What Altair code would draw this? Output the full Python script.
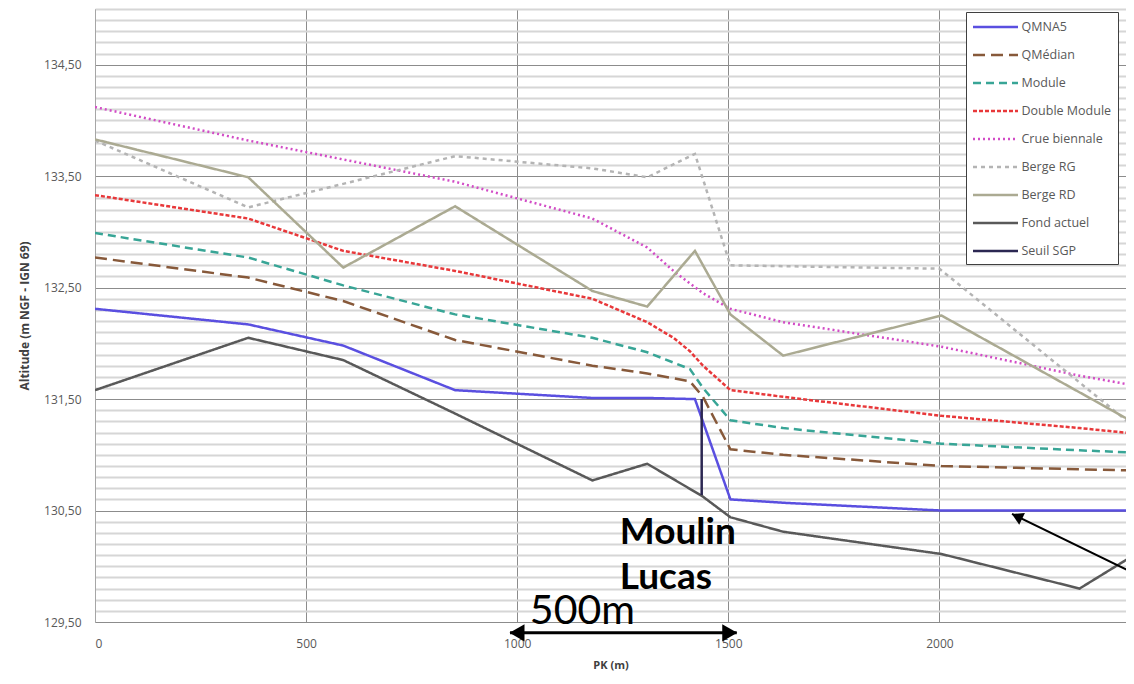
import altair as alt
import pandas as pd

# ---------------- data ----------------
series = ["QMNA5", "QMédian", "Module", "Double Module", "Crue biennale",
          "Berge RG", "Berge RD", "Fond actuel", "Seuil SGP"]

pk_qmna5 = [0, 363, 588, 853, 1178, 1308, 1421, 1505, 1630, 2005, 2332, 2465]
z_qmna5 = [132.31, 132.17, 131.98, 131.58, 131.51, 131.51, 131.50, 130.60, 130.57, 130.50, 130.50, 130.50]

pk_qmedian = [0, 363, 588, 853, 1178, 1308, 1409, 1440, 1505, 1630, 2005, 2332, 2465]
z_qmedian = [132.77, 132.59, 132.38, 132.03, 131.80, 131.73, 131.66, 131.52, 131.05, 131.00, 130.90, 130.87, 130.86]

pk_module = [0, 363, 588, 853, 1178, 1308, 1409, 1440, 1505, 1630, 2005, 2332, 2465]
z_module = [132.99, 132.77, 132.52, 132.26, 132.05, 131.92, 131.77, 131.60, 131.31, 131.24, 131.10, 131.04, 131.02]

pk_double = [0, 363, 588, 853, 1178, 1308, 1370, 1409, 1440, 1505, 1630, 2005, 2332, 2465]
z_double = [133.33, 133.12, 132.83, 132.65, 132.40, 132.19, 132.05, 131.93, 131.80, 131.58, 131.52, 131.35, 131.24, 131.19]

pk_crue = [0, 363, 588, 853, 1178, 1308, 1370, 1440, 1505, 1630, 2005, 2332, 2465]
z_crue = [134.12, 133.82, 133.65, 133.45, 133.12, 132.86, 132.65, 132.45, 132.31, 132.19, 131.97, 131.71, 131.62]

pk_rg = [0, 363, 853, 1178, 1308, 1421, 1505, 2000, 2465]
z_rg = [133.82, 133.22, 133.68, 133.57, 133.49, 133.70, 132.70, 132.67, 131.24]

pk_rd = [0, 363, 588, 853, 1178, 1308, 1421, 1505, 1630, 2005, 2465]
z_rd = [133.83, 133.49, 132.68, 133.23, 132.47, 132.33, 132.83, 132.26, 131.89, 132.25, 131.28]

pk_fond = [0, 363, 588, 853, 1178, 1308, 1438, 1505, 1630, 2005, 2332, 2465]
z_fond = [131.58, 132.05, 131.85, 131.37, 130.77, 130.92, 130.63, 130.44, 130.31, 130.11, 129.80, 130.11]

pk_seuil = [1437, 1437]
z_seuil = [130.64, 131.50]

# annotations
moulin_text = ["Moulin", "Lucas"]
moulin_pk = [1243, 1243]
moulin_z = [130.20, 129.80]

scale_text = ["500m"]
scale_text_pk = [1030]
scale_text_z = [129.478]

scale_arrow_pk = [983, 1520]
scale_arrow_z = [129.403, 129.403]

pointer_pk = [2172, 2470]
pointer_z = [130.47, 129.92]

x_ticks = [0, 500, 1000, 1500, 2000]
y_ticks = [round(129.5 + 0.1 * i, 1) for i in range(56)]

# ---------------- styles ----------------
colors = ["#5a4fe0", "#87593a", "#38a596", "#e8383a", "#d24cc6",
          "#b4b4b4", "#abaa92", "#595959", "#2b2752"]
dashes = [[1, 0], [12, 6], [8, 5], [4, 2], [2, 3], [4, 4], [1, 0], [1, 0], [1, 0]]
widths = [2.5, 2.5, 2.5, 2.5, 2.5, 1.5, 2, 2, 3]

pk_lists = [pk_qmna5, pk_qmedian, pk_module, pk_double, pk_crue, pk_rg, pk_rd, pk_fond, pk_seuil]
z_lists = [z_qmna5, z_qmedian, z_module, z_double, z_crue, z_rg, z_rd, z_fond, z_seuil]

rows = []
for name, xs, zs in zip(series, pk_lists, z_lists):
    for i, (x, z) in enumerate(zip(xs, zs)):
        rows.append({"serie": name, "pk": x, "z": z, "idx": i})
df = pd.DataFrame(rows)

X_DOMAIN = [0, 2442]
Y_DOMAIN = [129.5, 135.0]
xscale = alt.Scale(domain=X_DOMAIN, nice=False, zero=False)
yscale = alt.Scale(domain=Y_DOMAIN, nice=False, zero=False)

is_major = "(abs((datum.value - 129.5) % 1) < 0.001 || abs((datum.value - 129.5) % 1 - 1) < 0.001)"

xaxis = alt.Axis(values=x_ticks, format="d", grid=True, gridColor="#8c8c8c", gridWidth=1,
                 ticks=False, domain=False, labelPadding=16, labelFontSize=12,
                 labelColor="#595959", labelFont="Open Sans",
                 title="PK (m)", titleFontSize=11, titleFontWeight="bold",
                 titleColor="#404040", titleFont="Open Sans", titlePadding=10)

yaxis = alt.Axis(values=y_ticks, tickCount=200,
                 labelExpr=f"{is_major} ? replace(format(datum.value, '.2f'), '.', ',') : ''",
                 gridColor={"condition": {"test": is_major, "value": "#8c8c8c"}, "value": "#d6d6d6"},
                 gridWidth={"condition": {"test": is_major, "value": 1.2}, "value": 2},
                 ticks=False, labelOverlap=False, labelPadding=14, labelFontSize=12,
                 labelColor="#595959", labelFont="Open Sans", domainColor="#a6a6a6",
                 title="Altitude (m NGF - IGN 69)", titleFontSize=12, titleFontWeight="bold",
                 titleColor="#404040", titleFont="Open Sans", titlePadding=12)

legend = alt.Legend(title=None, orient="none", legendX=871, legendY=3,
                    symbolType="M-3,0L3,0", symbolSize=225, symbolOffset=14.5,
                    labelOffset=17, labelFontSize=12.5,
                    labelColor="#595959", labelFont="Open Sans", fillColor="white",
                    strokeColor="#404040", padding=6, rowPadding=12)

lines = alt.Chart(df).mark_line(clip=True).encode(
    x=alt.X("pk:Q", scale=xscale, axis=xaxis),
    y=alt.Y("z:Q", scale=yscale, axis=yaxis),
    color=alt.Color("serie:N", scale=alt.Scale(domain=series, range=colors), legend=legend, sort=series),
    strokeDash=alt.StrokeDash("serie:N", scale=alt.Scale(domain=series, range=dashes), legend=legend, sort=series),
    strokeWidth=alt.StrokeWidth("serie:N", scale=alt.Scale(domain=series, range=widths), legend=legend, sort=series),
    order="idx:Q",
)

moulin_df = pd.DataFrame({"t": moulin_text, "pk": moulin_pk, "z": moulin_z})
moulin = alt.Chart(moulin_df).mark_text(align="left", baseline="alphabetic", font="Lato",
                                        fontWeight="bold", fontSize=37, color="black").encode(
    x=alt.X("pk:Q", scale=xscale), y=alt.Y("z:Q", scale=yscale), text="t:N")

stext_df = pd.DataFrame({"t": scale_text, "pk": scale_text_pk, "z": scale_text_z})
stext = alt.Chart(stext_df).mark_text(align="left", baseline="alphabetic", font="Lato",
                                      fontSize=41, color="black").encode(
    x=alt.X("pk:Q", scale=xscale), y=alt.Y("z:Q", scale=yscale), text="t:N")

sarrow_df = pd.DataFrame({"pk": scale_arrow_pk, "z": scale_arrow_z})
sarrow = alt.Chart(sarrow_df).mark_line(color="black", strokeWidth=3).encode(
    x=alt.X("pk:Q", scale=xscale), y=alt.Y("z:Q", scale=yscale))
head_l = alt.Chart(sarrow_df.iloc[[0]]).mark_point(shape="triangle-left", filled=True, size=300,
                                                   color="black", opacity=1, xOffset=7).encode(
    x=alt.X("pk:Q", scale=xscale), y=alt.Y("z:Q", scale=yscale))
head_r = alt.Chart(sarrow_df.iloc[[1]]).mark_point(shape="triangle-right", filled=True, size=300,
                                                   color="black", opacity=1, xOffset=-7).encode(
    x=alt.X("pk:Q", scale=xscale), y=alt.Y("z:Q", scale=yscale))

pointer_df = pd.DataFrame({"pk": pointer_pk, "z": pointer_z})
pointer = alt.Chart(pointer_df).mark_line(color="black", strokeWidth=2).encode(
    x=alt.X("pk:Q", scale=xscale), y=alt.Y("z:Q", scale=yscale))
pointer_head = alt.Chart(pointer_df.iloc[[0]]).mark_point(shape="triangle-up", filled=True, size=170,
                                                          color="black", opacity=1, angle=296,
                                                          xOffset=5, yOffset=2.5).encode(
    x=alt.X("pk:Q", scale=xscale), y=alt.Y("z:Q", scale=yscale))

chart = alt.layer(lines, moulin, stext, sarrow, head_l, head_r, pointer, pointer_head).properties(
    width=1031, height=613,
    autosize=alt.AutoSizeParams(type="none"),
    padding={"left": 87, "top": 1, "right": 0, "bottom": 52},
    background="white",
).configure_view(stroke=None)

chart.save("out.html", embed_options={"renderer": "svg", "actions": False})
